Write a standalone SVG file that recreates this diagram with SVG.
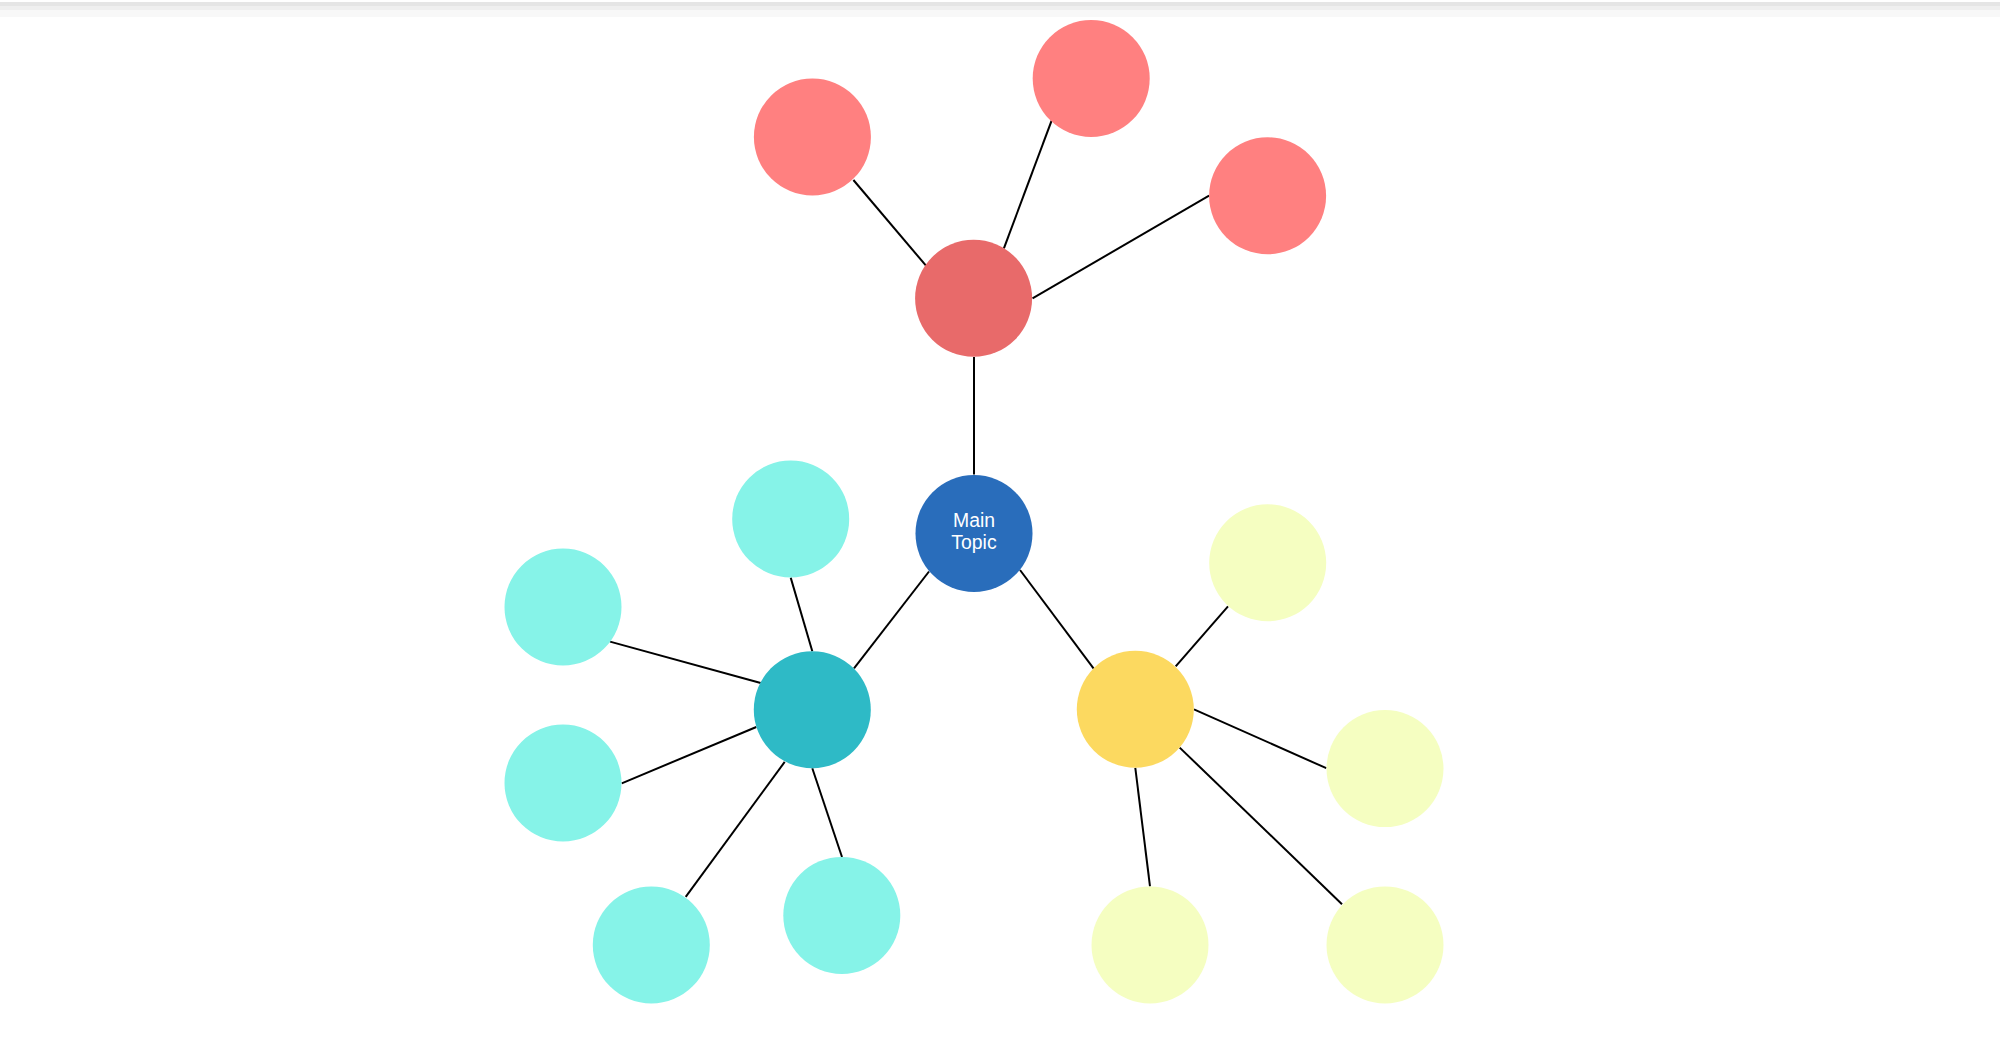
<svg xmlns="http://www.w3.org/2000/svg" width="2000" height="1044" viewBox="0 0 2000 1044">
<style>
.ln{stroke:#000;stroke-width:2;fill:none}
.redhub{fill:#E86A6A}
.red{fill:#FF8080}
.main{fill:#296DBB}
.cyanhub{fill:#2EBAC6}
.cyan{fill:#86F3E8}
.yelhub{fill:#FCD960}
.yel{fill:#F5FEC1}
.lbl{font-family:"Liberation Sans",Arial,sans-serif;font-size:19.4px;fill:#fff;text-anchor:middle}
</style>
<rect x="0" y="0" width="2000" height="1044" fill="#fff"/>
<rect x="0" y="2" width="2000" height="4" fill="#e5e5e5"/>
<rect x="0" y="6" width="2000" height="4" fill="#efefef"/>
<rect x="0" y="10" width="2000" height="7" fill="#f8f8f8"/>
<g id="connectors">
<line class="ln" x1="974" y1="474.5" x2="974" y2="357"/>
<line class="ln" x1="926" y1="265.7" x2="853.4" y2="180"/>
<line class="ln" x1="1003.9" y1="248.3" x2="1051.6" y2="120.7"/>
<line class="ln" x1="1032.5" y1="298.3" x2="1209.1" y2="195.7"/>
<line class="ln" x1="929" y1="571.5" x2="854" y2="668.3"/>
<line class="ln" x1="812.3" y1="651.2" x2="790.7" y2="577.6"/>
<line class="ln" x1="760.7" y1="683" x2="610" y2="641.6"/>
<line class="ln" x1="756.3" y1="727" x2="621.7" y2="783.3"/>
<line class="ln" x1="784.7" y1="761.9" x2="685.7" y2="896.9"/>
<line class="ln" x1="812.3" y1="768.2" x2="842" y2="857"/>
<line class="ln" x1="1020" y1="570" x2="1093.7" y2="668.7"/>
<line class="ln" x1="1175.7" y1="666.3" x2="1228" y2="606.4"/>
<line class="ln" x1="1194" y1="709.3" x2="1326.3" y2="768.2"/>
<line class="ln" x1="1135.3" y1="767.9" x2="1150" y2="886.3"/>
<line class="ln" x1="1179.7" y1="747.6" x2="1342" y2="904.2"/>
</g>
<g id="main-topic"><circle class="main" cx="974" cy="533.5" r="58.5"/><text class="lbl" x="974" y="526.7">Main</text><text class="lbl" x="974" y="549.3">Topic</text></g>
<g id="red-hub"><circle class="redhub" cx="973.6" cy="298.3" r="58.5"/></g>
<g id="red-1"><circle class="red" cx="812.4" cy="137" r="58.5"/></g>
<g id="red-2"><circle class="red" cx="1091.2" cy="78.5" r="58.5"/></g>
<g id="red-3"><circle class="red" cx="1267.6" cy="195.8" r="58.5"/></g>
<g id="cyan-hub"><circle class="cyanhub" cx="812.3" cy="709.7" r="58.5"/></g>
<g id="cyan-1"><circle class="cyan" cx="790.7" cy="519" r="58.5"/></g>
<g id="cyan-2"><circle class="cyan" cx="563" cy="607" r="58.5"/></g>
<g id="cyan-3"><circle class="cyan" cx="563" cy="783" r="58.5"/></g>
<g id="cyan-4"><circle class="cyan" cx="651.3" cy="945" r="58.5"/></g>
<g id="cyan-5"><circle class="cyan" cx="841.8" cy="915.4" r="58.5"/></g>
<g id="yellow-hub"><circle class="yelhub" cx="1135.3" cy="709.3" r="58.5"/></g>
<g id="yellow-1"><circle class="yel" cx="1267.7" cy="562.8" r="58.5"/></g>
<g id="yellow-2"><circle class="yel" cx="1385" cy="768.6" r="58.5"/></g>
<g id="yellow-3"><circle class="yel" cx="1150" cy="944.9" r="58.5"/></g>
<g id="yellow-4"><circle class="yel" cx="1385" cy="944.9" r="58.5"/></g>
</svg>
